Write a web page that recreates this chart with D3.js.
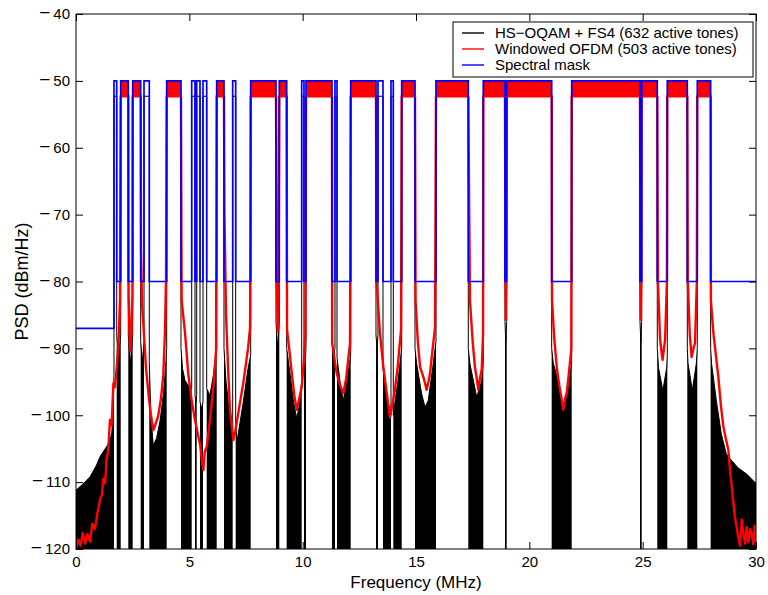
<!DOCTYPE html>
<html><head><meta charset="utf-8">
<script src="https://cdn.jsdelivr.net/npm/d3@7"></script>
<style>body{margin:0;background:#fff}text{font-family:"Liberation Sans",Arial,Helvetica,sans-serif}</style>
</head><body><svg id="c" width="768" height="595"></svg>
<script>
const xTicks=[0,5,10,15,20,25,30];
const yTicks=[-120,-110,-100,-90,-80,-70,-60,-50,-40];
// spectral mask passbands [start,end] MHz (mask = -50 dBm/Hz inside, -80 between, -87 below first band)
const maskBands=[[1.676,1.796],[1.972,2.307],[2.501,2.854],[3.0,3.234],[4.001,4.632],[5.104,5.25],[5.325,5.471],[5.603,5.766],[6.207,6.529],[6.913,7.045],[7.707,8.823],[8.969,9.295],[9.957,10.058],[10.147,11.294],[11.426,11.515],[12.119,13.235],[13.323,13.544],[13.897,13.999],[14.369,14.956],[15.882,17.307],[17.969,18.926],[19.001,20.986],[21.869,24.882],[24.957,25.645],[26.086,26.969],[27.41,27.999]];
const maskPassLevel=-50, maskNotchLevel=-80, maskLowLevel=-87;
// bands used by windowed OFDM (indices into maskBands)
const ofdmBandIdx=[1,2,4,8,10,11,13,15,18,19,20,21,22,23,24,25];
const blackPassLevel=-52.3;
const redPassTop=-50, redPassBottom=-52.3;
// HS-OQAM PSD: upper envelope of the dense oscillation inside each mask notch
const blackNotches=[
[[0,-111.2],[0.3,-110.3],[0.62,-109.2],[0.9,-107.5],[1.06,-106.2],[1.35,-104.7],[1.5,-103.8],[1.58,-102.6],[1.65,-98],[1.676,-94]],
[[1.796,-88],[1.88,-91],[1.972,-88]],
[[2.307,-88],[2.4,-92.3],[2.501,-88]],
[[2.854,-89],[2.93,-92],[3.0,-89]],
[[3.234,-92],[3.3,-100],[3.41,-104.5],[3.55,-103.5],[3.7,-101],[3.85,-97],[3.95,-93],[4.001,-90]],
[[4.632,-90],[4.7,-93],[4.81,-94.8],[4.95,-95.5],[5.104,-96]],
[[5.25,-97],[5.29,-98],[5.325,-97]],
[[5.471,-98],[5.54,-99],[5.603,-98]],
[[5.766,-96],[5.91,-97],[6.06,-94],[6.207,-90]],
[[6.529,-90],[6.62,-95],[6.79,-100],[6.913,-102]],
[[7.045,-101],[7.1,-104],[7.24,-101],[7.38,-98],[7.59,-93],[7.707,-91]],
[[8.823,-86],[8.9,-90],[8.969,-86]],
[[9.295,-90],[9.45,-94],[9.6,-98],[9.74,-100.5],[9.85,-98.5],[9.957,-95]],
[[10.058,-92],[10.1,-93],[10.147,-90]],
[[11.294,-88],[11.36,-91],[11.426,-90]],
[[11.515,-91.4],[11.65,-95],[11.79,-97.8],[11.95,-95],[12.119,-91]],
[[13.235,-88],[13.28,-90],[13.323,-88]],
[[13.544,-93],[13.71,-97],[13.897,-100]],
[[13.999,-100],[14.07,-98],[14.2,-95],[14.369,-90]],
[[14.956,-90],[15.03,-92.3],[15.25,-96.8],[15.4,-98.8],[15.54,-97.8],[15.76,-92.3],[15.882,-89]],
[[17.307,-90],[17.38,-92.3],[17.68,-97.3],[17.9,-94.8],[17.969,-92]],
[[18.926,-86],[18.96,-89],[19.001,-86]],
[[20.986,-90],[21.06,-92.3],[21.28,-94.8],[21.5,-99.3],[21.72,-96.3],[21.869,-92]],
[[24.882,-86],[24.92,-89],[24.957,-86]],
[[25.645,-90],[25.7,-92.9],[25.89,-96.3],[26.06,-92.9],[26.086,-91]],
[[26.969,-90],[27.0,-92.2],[27.19,-96.3],[27.37,-92.2],[27.41,-90]],
[[27.999,-90],[28.04,-92.3],[28.25,-97.8],[28.47,-102.8],[28.69,-105.8],[28.93,-106.8],[29.22,-107.9],[29.59,-108.8],[30,-110.2]]
];
// Windowed OFDM PSD between its active bands
const redNotches=[
[[0,-120],[0.1,-118.6],[0.2,-119.5],[0.3,-117.6],[0.4,-119.2],[0.5,-117.8],[0.62,-118.9],[0.72,-116.2],[0.84,-117],[0.95,-114.5],[1.06,-112.6],[1.15,-111.8],[1.2,-109.5],[1.28,-110.2],[1.35,-106.7],[1.42,-105.2],[1.5,-100.7],[1.57,-101.5],[1.65,-95.2],[1.72,-95.8],[1.8,-92.8],[1.88,-89],[1.94,-82.8],[1.972,-52.3]],
[[2.307,-52.3],[2.32,-82],[2.37,-88.5],[2.4,-90.5],[2.44,-88],[2.49,-82],[2.501,-52.3]],
[[2.854,-52.3],[2.87,-75],[2.91,-83],[3.0,-88],[3.09,-93],[3.19,-96.5],[3.27,-99],[3.35,-101],[3.41,-102.2],[3.49,-101.5],[3.62,-100.2],[3.75,-97.5],[3.85,-94],[3.92,-88],[3.97,-80],[4.001,-52.3]],
[[4.632,-52.3],[4.66,-82.8],[4.81,-87.7],[4.95,-93.7],[5.1,-97.7],[5.25,-100.7],[5.4,-103.2],[5.48,-104.5],[5.55,-106.7],[5.62,-108.2],[5.68,-105.5],[5.77,-104.7],[5.91,-100.7],[6.06,-95.8],[6.18,-90.2],[6.207,-52.3]],
[[6.529,-52.3],[6.55,-70],[6.62,-85],[6.71,-93],[6.79,-99],[6.87,-101.5],[6.94,-103.7],[7.02,-102.5],[7.09,-101.1],[7.24,-98],[7.38,-95.2],[7.59,-90],[7.68,-86.9],[7.707,-52.3]],
[[8.823,-52.3],[8.86,-80],[8.9,-87.5],[8.94,-80],[8.969,-52.3]],
[[9.295,-52.3],[9.31,-87.2],[9.42,-90.5],[9.52,-93.7],[9.63,-97],[9.74,-99.2],[9.85,-97.5],[9.96,-95.7],[10.05,-92],[10.12,-88],[10.147,-52.3]],
[[11.294,-52.3],[11.3,-89.2],[11.4,-91.5],[11.5,-93.7],[11.65,-95.5],[11.79,-96.7],[11.92,-94.5],[12.0,-92],[12.09,-89.2],[12.119,-52.3]],
[[13.235,-52.3],[13.26,-80],[13.41,-87.7],[13.55,-92.5],[13.71,-96.7],[13.85,-100.3],[13.95,-98.5],[14.07,-96.2],[14.2,-92.5],[14.34,-87.2],[14.369,-52.3]],
[[14.956,-52.3],[14.98,-82.8],[15.08,-89],[15.18,-92.8],[15.3,-94],[15.4,-95.2],[15.47,-96.2],[15.55,-95],[15.62,-93.7],[15.72,-90.5],[15.84,-86.9],[15.882,-52.3]],
[[17.307,-52.3],[17.38,-82.8],[17.5,-89],[17.6,-92.8],[17.68,-94.5],[17.75,-96.2],[17.82,-94.5],[17.9,-93.2],[17.96,-87.7],[17.969,-52.3]],
[[18.926,-52.3],[18.95,-80],[18.965,-85.7],[18.98,-80],[19.001,-52.3]],
[[20.986,-52.3],[21.0,-82.8],[21.1,-88.5],[21.21,-92.8],[21.32,-95.5],[21.43,-97.7],[21.5,-99.2],[21.58,-97.5],[21.65,-96.7],[21.75,-93.5],[21.85,-90.2],[21.869,-52.3]],
[[24.882,-52.3],[24.9,-80],[24.92,-85.7],[24.94,-80],[24.957,-52.3]],
[[25.645,-52.3],[25.67,-80],[25.77,-88.7],[25.83,-90.5],[25.88,-91.7],[25.94,-90],[25.99,-88.7],[26.07,-80],[26.086,-52.3]],
[[26.969,-52.3],[26.99,-80],[27.08,-88],[27.16,-91.3],[27.24,-90],[27.31,-89.2],[27.39,-80],[27.41,-52.3]],
[[27.999,-52.3],[28.01,-82.8],[28.12,-87.7],[28.23,-91],[28.34,-94.3],[28.45,-98.5],[28.56,-101.7],[28.67,-103.5],[28.78,-105.2],[28.86,-108.5],[28.93,-110.7],[29.0,-113],[29.07,-115.2],[29.15,-116.8],[29.22,-118.2],[29.3,-119.5],[29.37,-115.6],[29.45,-117.8],[29.52,-119.2],[29.59,-116.7],[29.66,-119],[29.74,-117],[29.81,-117.6],[29.88,-119.3],[29.94,-116.5],[30,-119]]
];
const legendLabels=["HS\u2212OQAM + FS4 (632 active tones)","Windowed OFDM (503 active tones)","Spectral mask"];
const legendColors=["#000000","#ff0000","#0000ff"];

const L=76,R=756,T=14,B=549;
const svg=d3.select("#c");
const x=d3.scaleLinear().domain([0,30]).range([L,R]);
const y=d3.scaleLinear().domain([-120,-40]).range([B,T]);

svg.append("defs").append("clipPath").attr("id","clip").append("rect")
  .attr("x",L).attr("y",T).attr("width",R-L).attr("height",B-T);
const g=svg.append("g").attr("clip-path","url(#clip)");

const line=d3.line().x(d=>x(d[0])).y(d=>y(d[1]));

// black: HS-OQAM
const area=d3.area().x(d=>x(d[0])).y0(y(-120)).y1(d=>y(d[1]));
g.selectAll("path.bfill").data(blackNotches).join("path").attr("class","bfill")
  .attr("d",area).attr("fill","#000");
const blackPts=[];
blackNotches.forEach((n,i)=>{blackPts.push(...n); if(i<maskBands.length){blackPts.push([maskBands[i][0],blackPassLevel],[maskBands[i][1],blackPassLevel]);}});
g.append("path").attr("d",line(blackPts)).attr("fill","none").attr("stroke","#000").attr("stroke-width",1);

// red: windowed OFDM
const redPts=[];
redNotches.forEach(n=>redPts.push(...n));
g.append("path").attr("d",line(redPts)).attr("fill","none").attr("stroke","#ff0000").attr("stroke-width",2.4).attr("stroke-linejoin","round");
const bandArea=d3.area().x(d=>x(d)).y0(y(redPassBottom)).y1(y(redPassTop));
g.selectAll("path.rband").data(ofdmBandIdx.map(i=>maskBands[i])).join("path").attr("class","rband")
  .attr("d",d=>bandArea(d)).attr("fill","#ff0000");

// blue: spectral mask
const maskPts=[[0,maskLowLevel]];
maskBands.forEach((b,i)=>{
  const prev = i===0?maskLowLevel:maskNotchLevel;
  maskPts.push([b[0],prev],[b[0],maskPassLevel],[b[1],maskPassLevel],[b[1],maskNotchLevel]);
});
maskPts.push([30,maskNotchLevel]);
g.append("path").attr("d",line(maskPts)).attr("fill","none").attr("stroke","#0000ff").attr("stroke-width",1.7);

// axes
const fs=15;
const ax=svg.append("g").attr("transform",`translate(0,${B})`).call(d3.axisBottom(x).tickValues(xTicks).tickSizeInner(-7).tickSizeOuter(0).tickPadding(7));
const ay=svg.append("g").attr("transform",`translate(${L},0)`).call(d3.axisLeft(y).tickValues(yTicks).tickSizeInner(-7).tickSizeOuter(0).tickPadding(6));
const at=svg.append("g").attr("transform",`translate(0,${T})`).call(d3.axisTop(x).tickValues(xTicks).tickSizeInner(-7).tickSizeOuter(0).tickFormat(""));
const ar=svg.append("g").attr("transform",`translate(${R},0)`).call(d3.axisRight(y).tickValues(yTicks).tickSizeInner(-7).tickSizeOuter(0).tickFormat(""));
[ax,ay,at,ar].forEach(a=>{a.select(".domain").remove();a.selectAll("text").attr("font-size",fs).attr("font-family","Liberation Sans, Arial, sans-serif").attr("fill","#000");a.selectAll("line").attr("stroke","#000");});
// wider minus sign on y tick labels, as in the reference
ay.selectAll(".tick text").each(function(){
  const t=d3.select(this), s=t.text();
  if(s.startsWith("\u2212")){
    t.text(null);
    t.append("tspan").attr("font-size",19).text("\u2212");
    t.append("tspan").attr("dx",3).text(s.slice(1));
  }
});
svg.append("rect").attr("x",L).attr("y",T).attr("width",R-L).attr("height",B-T).attr("fill","none").attr("stroke","#000").attr("stroke-width",1);

svg.append("text").attr("x",(L+R)/2).attr("y",588).attr("text-anchor","middle").attr("font-size",17).text("Frequency (MHz)");
svg.append("text").attr("transform",`translate(28,${(T+B)/2}) rotate(-90)`).attr("text-anchor","middle").attr("font-size",18).text("PSD (dBm/Hz)");

// legend
const lg=svg.append("g");
lg.append("rect").attr("x",453).attr("y",22).attr("width",300).attr("height",55).attr("fill","#fff").attr("stroke","#000");
legendLabels.forEach((t,i)=>{
  const yy=33+i*16;
  lg.append("line").attr("x1",462).attr("x2",484).attr("y1",yy).attr("y2",yy).attr("stroke",legendColors[i]).attr("stroke-width",1.4);
  lg.append("text").attr("x",495).attr("y",yy+5).attr("font-size",15).text(t);
});
</script></body></html>
